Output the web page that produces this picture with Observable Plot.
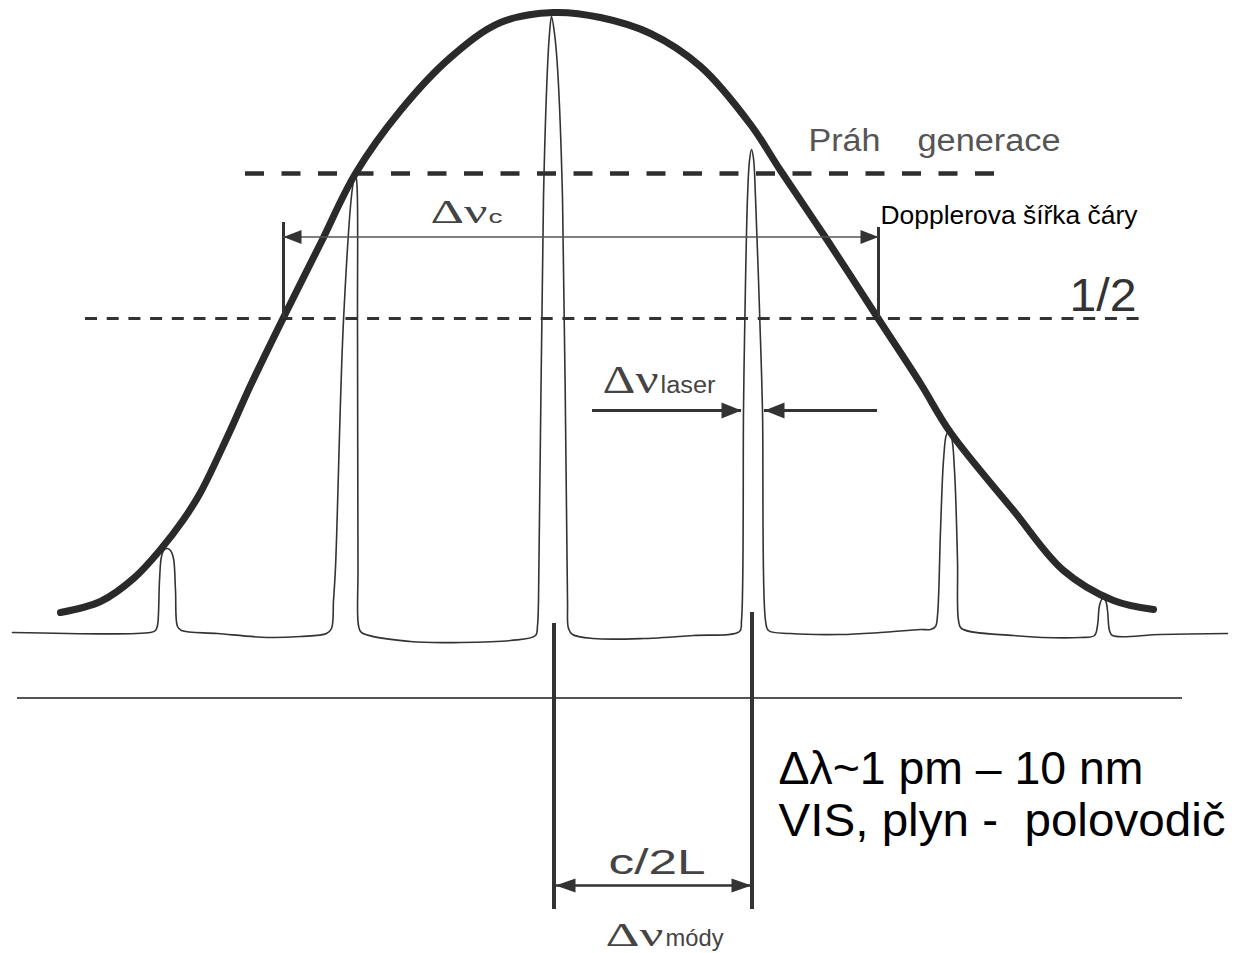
<!DOCTYPE html>
<html>
<head>
<meta charset="utf-8">
<script src="https://cdn.jsdelivr.net/npm/d3@7"></script>
<script src="https://cdn.jsdelivr.net/npm/@observablehq/plot@0.6"></script>
<style>
  html, body { margin: 0; padding: 0; background: #fff; }
  #chart svg { display: block; }
</style>
</head>
<body>
<div id="chart"></div>
<script>
// ---- Data (frequency axis → x, level → y, picture units) ----

// Doppler gain profile (thick curve)
const gainFreq  = [60, 100, 133, 160, 183, 200, 227, 250, 283, 320, 355, 400, 450, 500, 553, 600, 650, 700, 750, 780, 827, 877, 920, 950, 1013, 1063, 1113, 1153];
const gainLevel = [612, 601, 578, 549, 519, 492, 436, 385, 317, 243, 173, 110, 57, 22, 12, 17, 33, 66, 124, 170, 240, 317, 383, 432, 510, 570, 600, 609];

// Laser output spectrum (longitudinal modes, thin line)
const specFreq  = [12, 150, 155, 157, 159, 161, 164, 167, 170, 173, 175, 177, 181, 217, 267, 300, 326,
                   331, 333, 335, 343, 352, 355, 356.5, 357, 357.5, 358, 361,
                   410, 460, 510, 535, 537, 538, 543, 547, 549, 551, 554, 557, 562, 567, 568, 572,
                   593, 643, 693, 739, 741, 743, 744, 747, 749, 751, 753, 755, 760, 762, 765, 768,
                   790, 840, 880, 920, 930, 935, 937, 940, 943, 946, 948, 951, 954, 957, 958, 961,
                   1013, 1080, 1094, 1097, 1099, 1102, 1105, 1107, 1109, 1112, 1160, 1227];
const specLevel = [632, 632, 630, 625, 580, 556, 549, 548, 550, 558, 590, 626, 630, 633, 637, 636, 633,
                   628, 600, 567, 320, 187, 173, 185, 320, 567, 625, 632,
                   641, 642, 640, 635, 625, 600, 197, 67, 33, 16, 33, 67, 197, 600, 628, 634,
                   638, 638, 635, 631, 620, 410, 340, 197, 160, 149, 158, 197, 340, 410, 620, 630,
                   633, 634, 632, 629, 629, 626, 615, 530, 460, 434, 432, 437, 470, 560, 620, 628,
                   635, 637, 635, 625, 605, 598, 600, 610, 630, 635, 634, 633];

// Horizontal reference lines
const thresholdLine = [{x1: 245, x2: 995, y: 173}];   // Práh generace
const halfLine      = [{x1: 85,  x2: 1142, y: 318}];  // 1/2
const baseAxis      = [{x1: 17,  x2: 1182, y: 697.5}];

// Vertical markers
const fwhmMarks = [{x: 283, y1: 222, y2: 318}, {x: 878, y1: 227, y2: 318}];
const modeMarks = [{x: 553.5, y1: 623, y2: 909}, {x: 751.5, y1: 612, y2: 909}];

// Dimension arrows: shaft from x1 to x2; heads at the listed ends
const dopplerArrow = [{x1: 283, x2: 878, y: 236.5, heads: ["start", "end"]}];
const laserArrows  = [{x1: 592, x2: 741, y: 410, heads: ["end"]}, {x1: 877, x2: 764, y: 410, heads: ["end"]}];
const modeArrow    = [{x1: 555, x2: 751, y: 885, heads: ["start", "end"]}];

// Labels
const labels = [
  {text: "Práh", x: 808, y: 150},
  {text: "generace", x: 917, y: 150},
  {text: "Dopplerova šířka čáry", x: 880, y: 223},
  {text: "1/2", x: 1069, y: 310},
  {text: "Δν", x: 430, y: 222},
  {text: "c", x: 488, y: 222},
  {text: "Δν", x: 602, y: 392},
  {text: "laser", x: 660, y: 392},
  {text: "c/2L", x: 608, y: 873},
  {text: "Δν", x: 605, y: 945},
  {text: "módy", x: 665, y: 945},
  {text: "Δλ~1 pm – 10 nm", x: 778, y: 783},
  {text: "VIS, plyn -  polovodič", x: 778, y: 835}
];
// label styling (family, size, colour, rendered width)
const labelStyle = [
  ["Liberation Sans", 31, "#555", 72],
  ["Liberation Sans", 31, "#555", 143],
  ["Liberation Sans", 25, "#000", 257],
  ["Liberation Sans", 46, "#333", 67],
  ["Liberation Serif", 34, "#444", 57],
  ["Liberation Sans", 19, "#444", 14],
  ["Liberation Serif", 40, "#444", 56],
  ["Liberation Sans", 23, "#444", 55],
  ["Liberation Sans", 35, "#444", 97],
  ["Liberation Serif", 33, "#444", 58],
  ["Liberation Sans", 24, "#444", 58],
  ["Liberation Sans", 47, "#000", 365],
  ["Liberation Sans", 47, "#000", 447]
];

// ---- Build tables for the marks ----
const gain = gainFreq.map((f, i) => ({f, v: gainLevel[i]}));
const spectrum = specFreq.map((f, i) => ({f, v: specLevel[i]}));

function heads(arrows, len, half, id0) {
  const out = [];
  arrows.forEach((a, k) => {
    const dir = Math.sign(a.x2 - a.x1);
    a.heads.forEach((h, j) => {
      const tip = h === "end" ? a.x2 : a.x1;
      const d = h === "end" ? dir : -dir;
      const id = id0 + "-" + k + "-" + j;
      out.push({id, f: tip, v: a.y});
      out.push({id, f: tip - d * len, v: a.y - half});
      out.push({id, f: tip - d * len, v: a.y + half});
    });
  });
  return out;
}

const W = 1234, H = 953;

const marks = [
  Plot.ruleY(baseAxis, {y: "y", x1: "x1", x2: "x2", stroke: "#555", strokeWidth: 2}),
  Plot.ruleY(halfLine, {y: "y", x1: "x1", x2: "x2", stroke: "#333", strokeWidth: 3, strokeDasharray: "12,9.7"}),
  Plot.ruleY(thresholdLine, {y: "y", x1: "x1", x2: "x2", stroke: "#2e2e2e", strokeWidth: 4.5, strokeDasharray: "19,17.5"}),
  Plot.line(spectrum, {x: "f", y: "v", curve: "catmull-rom", stroke: "#333", strokeWidth: 1.6}),
  Plot.line(gain, {x: "f", y: "v", curve: "catmull-rom", stroke: "#2a2a2a", strokeWidth: 7}),
  Plot.ruleX(fwhmMarks, {x: "x", y1: "y1", y2: "y2", stroke: "#333", strokeWidth: 3}),
  Plot.ruleX(modeMarks, {x: "x", y1: "y1", y2: "y2", stroke: "#333", strokeWidth: 4}),
  Plot.ruleY(dopplerArrow, {y: "y", x1: "x1", x2: "x2", stroke: "#555", strokeWidth: 1.5}),
  Plot.line(heads(dopplerArrow, 18, 7, "d"), {x: "f", y: "v", z: "id", fill: "#333", stroke: "none"}),
  Plot.ruleY(laserArrows, {y: "y", x1: "x1", x2: "x2", stroke: "#333", strokeWidth: 3}),
  Plot.line(heads(laserArrows, 20, 8, "l"), {x: "f", y: "v", z: "id", fill: "#333", stroke: "none"}),
  Plot.ruleY(modeArrow, {y: "y", x1: "x1", x2: "x2", stroke: "#333", strokeWidth: 2.5}),
  Plot.line(heads(modeArrow, 20, 7, "m"), {x: "f", y: "v", z: "id", fill: "#333", stroke: "none"})
];

labels.forEach((lab, i) => {
  const [family, size, color] = labelStyle[i];
  marks.push(Plot.text([lab], {
    x: "x", y: "y", text: "text",
    textAnchor: "start", lineAnchor: "bottom",
    fontFamily: family, fontSize: size, fill: color
  }));
});

const svg = Plot.plot({
  width: W, height: H,
  margin: 0,
  x: {domain: [0, W], range: [0, W], axis: null},
  y: {domain: [0, H], range: [0, H], axis: null},
  style: {background: "#fff"},
  marks
});

// fit label widths to the reference
svg.querySelectorAll("text").forEach((t, i) => {
  if (labelStyle[i]) {
    t.setAttribute("textLength", labelStyle[i][3]);
    t.setAttribute("lengthAdjust", "spacingAndGlyphs");
    t.style.whiteSpace = "pre";
  }
});

document.getElementById("chart").appendChild(svg);
</script>
</body>
</html>
